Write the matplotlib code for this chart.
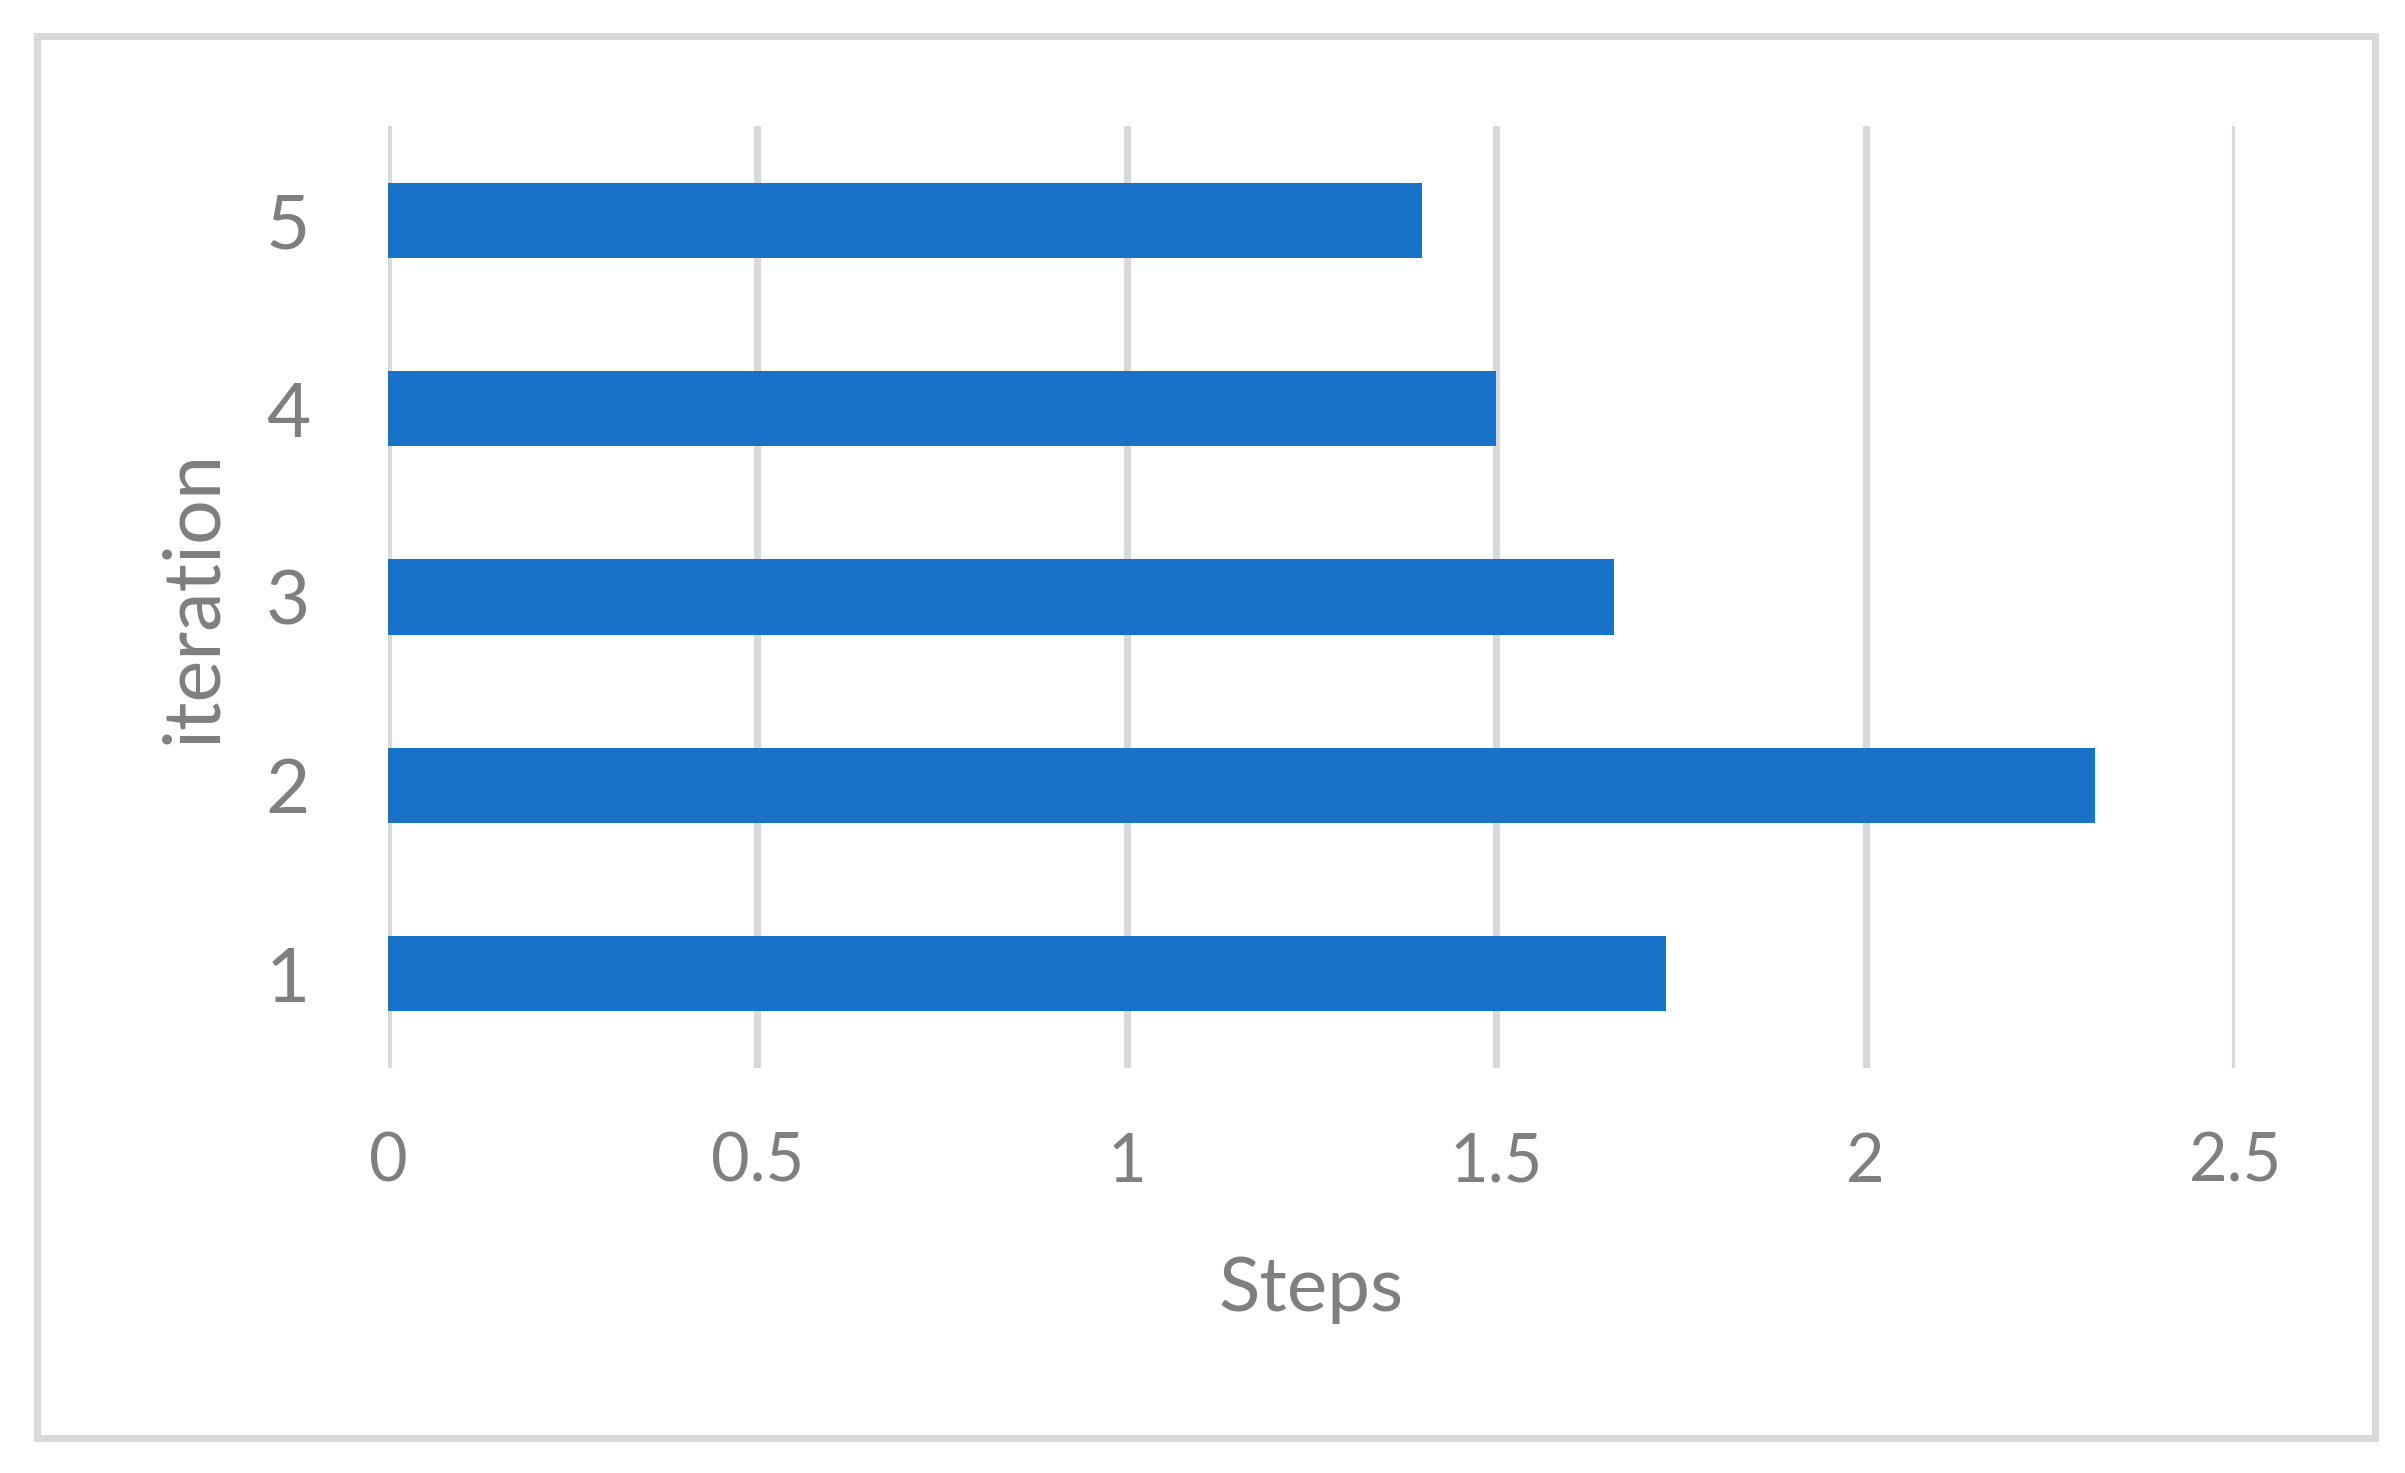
import matplotlib
matplotlib.use("Agg")
import matplotlib.pyplot as plt
from matplotlib.patches import Rectangle

# ====== 数据 ======
iterations = [1, 2, 3, 4, 5]
steps = [1.73, 2.31, 1.66, 1.50, 1.40]
x_ticks = [0, 0.5, 1, 1.5, 2, 2.5]
x_tick_labels = ["0", "0.5", "1", "1.5", "2", "2.5"]

bar_color = "#1873C8"
grid_color = "#D9D9D9"
text_color = "#7F7F7F"

plt.rcParams['font.family'] = ['Lato', 'DejaVu Sans']

fig = plt.figure(figsize=(12.025, 7.365), dpi=200)
ax = fig.add_axes([388 / 2405, 1 - 1068 / 1473, (2235 - 388) / 2405, (1068 - 126) / 1473])

ax.barh(iterations, steps, height=0.4, color=bar_color, zorder=3)

ax.set_xlim(0, 2.5)
ax.set_ylim(0.5, 5.5)
ax.set_xticks(x_ticks)
ax.set_xticklabels(x_tick_labels)
ax.set_yticks(iterations)
ax.set_yticklabels([str(i) for i in iterations])

ax.grid(axis='x', color=grid_color, linewidth=2.6, zorder=0)
ax.grid(axis='y', visible=False)
for s in ax.spines.values():
    s.set_visible(False)

ax.tick_params(axis='x', length=0, pad=23, labelsize=24, labelcolor=text_color)
ax.tick_params(axis='y', length=0, pad=28, labelsize=27.5, labelcolor=text_color)

ax.set_xlabel("Steps", fontsize=27.5, color=text_color, labelpad=22)
ax.set_ylabel("iteration", fontsize=28.5, color=text_color, labelpad=13)

# 外边框
fig.patches.append(Rectangle((37 / 2405, 1 - 1437.5 / 1473), (2374.5 - 37) / 2405, (1437.5 - 35.5) / 1473,
                             transform=fig.transFigure, fill=False, edgecolor=grid_color, linewidth=2.5))

fig.savefig("out.png", dpi=200, facecolor="white")
